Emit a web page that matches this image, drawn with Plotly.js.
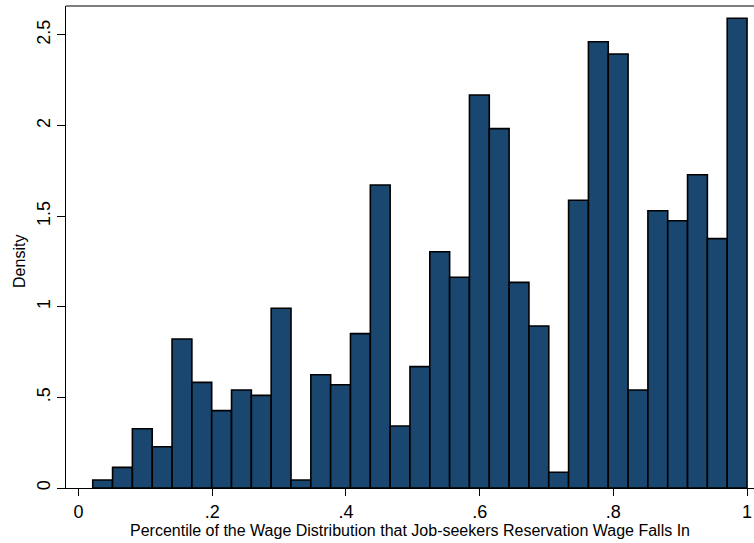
<!DOCTYPE html>
<html>
<head>
<meta charset="utf-8">
<script src="https://cdn.plot.ly/plotly-3.0.1.min.js"></script>
<style>html,body{margin:0;padding:0;background:#fff;}#chart{width:754px;height:543px;}</style>
</head>
<body>
<div id="chart"></div>
<script>
// Histogram: 33 bins, first bin starts at binStart, each binWidth wide
const binStart = 0.0212;
const binWidth = 0.02966;
const density = [
  0.044, 0.114, 0.327, 0.228, 0.822, 0.583, 0.427, 0.541, 0.511, 0.992, 0.044,
  0.625, 0.570, 0.852, 1.672, 0.342, 0.670, 1.304, 1.163, 2.169, 1.983, 1.135,
  0.894, 0.087, 1.588, 2.463, 2.395, 0.541, 1.530, 1.475, 1.729, 1.376, 2.592
];
const xTickVals = [0, 0.2, 0.4, 0.6, 0.8, 1];
const xTickText = ["0", ".2", ".4", ".6", ".8", "1"];
const yTickVals = [0, 0.5, 1, 1.5, 2, 2.5];
const yTickText = ["0", ".5", "1", "1.5", "2", "2.5"];
const xTitle = "Percentile of the Wage Distribution that Job-seekers Reservation Wage Falls In";
const yTitle = "Density";

const centers = density.map((d, i) => binStart + binWidth * (i + 0.5));

const font = "Liberation Sans, Arial, Helvetica, sans-serif";

const trace = {
  type: "bar",
  x: centers,
  y: density,
  width: density.map(() => binWidth),
  marker: { color: "#1a476f", line: { color: "#000000", width: 1.6 } },
  hoverinfo: "skip"
};

const layout = {
  width: 754, height: 543,
  margin: { l: 66, r: 0, t: 6, b: 55, pad: 0 },
  paper_bgcolor: "#ffffff",
  plot_bgcolor: "#ffffff",
  showlegend: false,
  bargap: 0,
  font: { family: font, color: "#000000" },
  xaxis: {
    range: [-0.0188, 1.0104],
    tickvals: xTickVals, ticktext: xTickText,
    ticks: "outside", ticklen: 7, tickwidth: 1, tickcolor: "#000",
    tickfont: { size: 18, family: font, color: "#000" },
    showline: true, linecolor: "#000", linewidth: 1.2,
    mirror: false,
    showgrid: false, zeroline: false,
    title: { text: xTitle, font: { size: 16, family: font, color: "#000" }, standoff: 1 }
  },
  yaxis: {
    range: [0, 2.66],
    tickvals: yTickVals, ticktext: yTickText,
    ticks: "outside", ticklen: 8, tickwidth: 1, tickcolor: "#000",
    tickangle: -90,
    tickfont: { size: 18, family: font, color: "#000" },
    showline: true, linecolor: "#000", linewidth: 1.2,
    showgrid: false, zeroline: false
  },
  annotations: [
    { text: yTitle, xref: "paper", yref: "paper", x: -0.0669, y: 0.471,
      xanchor: "center", yanchor: "middle", textangle: -90, showarrow: false,
      font: { size: 16, family: font, color: "#000" } }
  ],
  shapes: [
    { type: "line", xref: "paper", yref: "paper", x0: 0, x1: 1, y0: 1, y1: 1,
      line: { color: "#555555", width: 1.5 } }
  ]
};

Plotly.newPlot("chart", [trace], layout, { displayModeBar: false, staticPlot: true });
</script>
</body>
</html>
